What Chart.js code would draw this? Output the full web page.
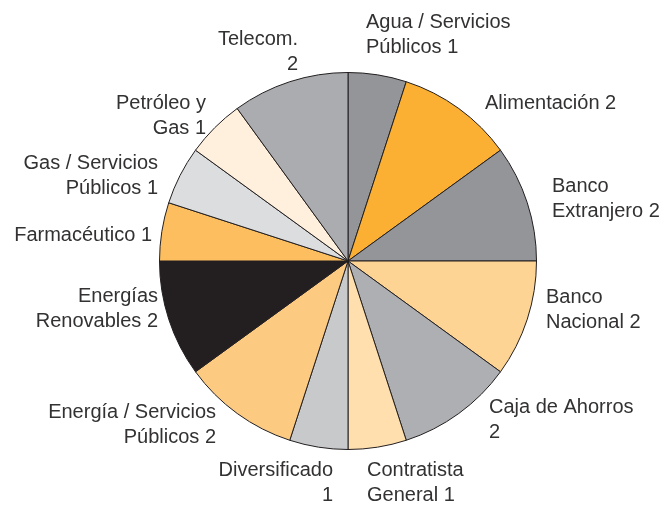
<!DOCTYPE html>
<html>
<head>
<meta charset="utf-8">
<script src="https://cdn.jsdelivr.net/npm/chart.js@4/dist/chart.umd.min.js"></script>
<style>
  html, body { margin: 0; padding: 0; background: #fff; }
  #wrap { width: 661px; height: 505px; }
</style>
</head>
<body>
<div id="wrap"><canvas id="pieChart" width="661" height="505"></canvas></div>
<script>
// sectores (en sentido horario desde arriba)
const sectors = [
  "Agua / Servicios Públicos", "Alimentación", "Banco Extranjero", "Banco Nacional",
  "Caja de Ahorros", "Contratista General", "Diversificado", "Energía / Servicios Públicos",
  "Energías Renovables", "Farmacéutico", "Gas / Servicios Públicos", "Petróleo y Gas", "Telecom."
];
const counts = [1, 2, 2, 2, 2, 1, 1, 2, 2, 1, 1, 1, 2];
const labelLines = [
  ["Agua / Servicios", "Públicos 1"],
  ["Alimentación 2"],
  ["Banco", "Extranjero 2"],
  ["Banco", "Nacional 2"],
  ["Caja de Ahorros", "2"],
  ["Contratista", "General 1"],
  ["Diversificado", "1"],
  ["Energía / Servicios", "Públicos 2"],
  ["Energías", "Renovables 2"],
  ["Farmacéutico 1"],
  ["Gas / Servicios", "Públicos 1"],
  ["Petróleo y", "Gas 1"],
  ["Telecom.", "2"]
];
const colors = [
  "#939598", "#FBB034", "#939598", "#FDD493", "#ADAFB2", "#FEDFAD", "#C8C9CB",
  "#FCCA80", "#231F20", "#FDBE5F", "#DCDDDF", "#FEF0DC", "#ABACAF"
];

// posicion de cada etiqueta respecto al centro del pie
const labelPos = [
  { dx: 18, dy: -226, align: "left" },
  { dx: 137, dy: -158, align: "left" },
  { dx: 204, dy: -62, align: "left" },
  { dx: 198, dy: 49, align: "left" },
  { dx: 141, dy: 159, align: "left" },
  { dx: 19, dy: 222, align: "left" },
  { dx: -15, dy: 222, align: "right" },
  { dx: -132, dy: 164, align: "right" },
  { dx: -190, dy: 48, align: "right" },
  { dx: -196, dy: -26, align: "right" },
  { dx: -190, dy: -85, align: "right" },
  { dx: -142, dy: -145, align: "right" },
  { dx: -50, dy: -209, align: "right" }
];

const outsideLabels = {
  id: "outsideLabels",
  afterDraw(chart) {
    const ctx = chart.ctx;
    const arcs = chart.getDatasetMeta(0).data;
    if (!arcs.length) return;
    const cx = arcs[0].x, cy = arcs[0].y;
    const lineH = 25;
    ctx.save();
    ctx.font = "20px 'Liberation Sans', Arial, sans-serif";
    ctx.fillStyle = "#333132";
    ctx.textBaseline = "middle";
    labelLines.forEach((lines, i) => {
      const p = labelPos[i];
      ctx.textAlign = p.align;
      const y0 = cy + p.dy - (lines.length - 1) * lineH / 2;
      lines.forEach((t, j) => ctx.fillText(t, cx + p.dx, y0 + j * lineH));
    });
    ctx.restore();
  }
};

new Chart(document.getElementById("pieChart"), {
  type: "pie",
  data: {
    labels: sectors,
    datasets: [{
      data: counts,
      backgroundColor: colors,
      borderColor: "#231F20",
      borderWidth: 1
    }]
  },
  options: {
    responsive: false,
    animation: false,
    layout: { padding: { left: 159, right: 124, top: 72, bottom: 55 } },
    plugins: {
      legend: { display: false },
      tooltip: { enabled: false }
    }
  },
  plugins: [outsideLabels]
});
</script>
</body>
</html>
